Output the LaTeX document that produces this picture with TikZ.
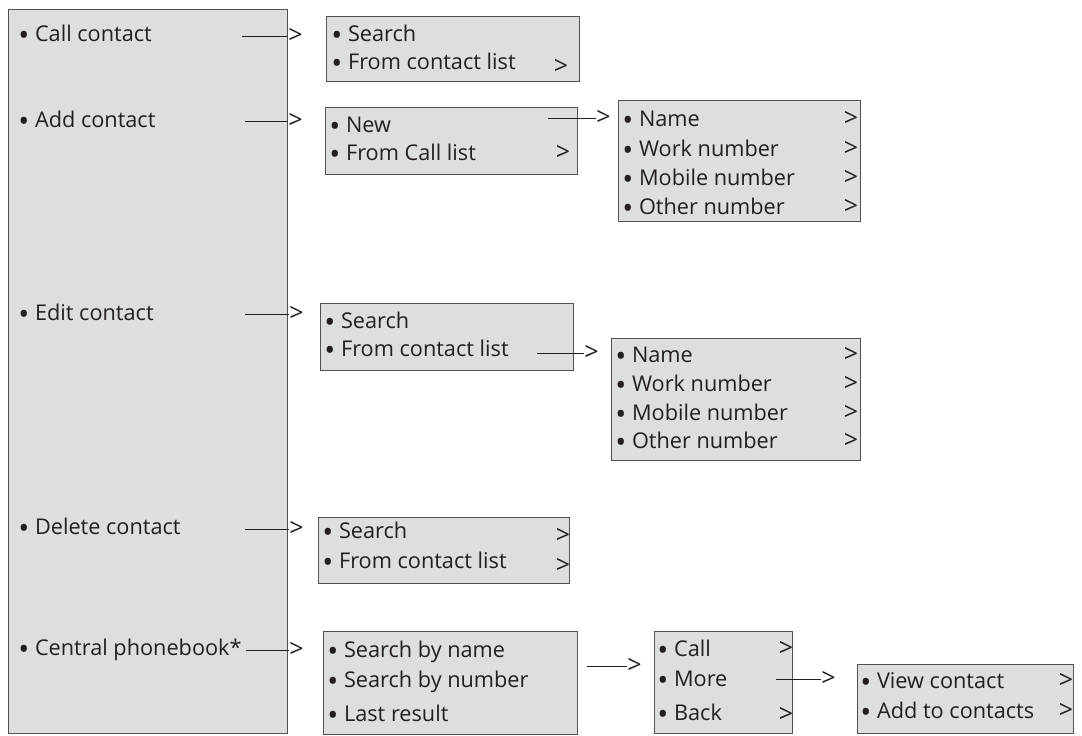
\documentclass[tikz,border=0pt]{standalone}
\usepackage{fontspec}
\setmainfont{Open Sans}
\usetikzlibrary{positioning}
\definecolor{boxfill}{RGB}{221,222,224}
\definecolor{boxline}{RGB}{80,80,82}
\definecolor{ink}{RGB}{35,31,32}
\newcommand{\bul}{\raisebox{-0.19em}{\scalebox{1.35}{•}}}

\begin{document}
\begin{tikzpicture}
            [x=1pt,y=-1pt,thick,
             main/.style = {draw=boxline,fill=boxfill,rectangle,anchor=north west,inner sep=0pt,line width=0.9pt},
             item/.style = {anchor=base west,inner sep=0pt,text height=16pt,text depth=4pt,text=ink,font=\fontsize{21.7}{24}\selectfont},
             more/.style = {anchor=base,inner sep=0pt,text=ink,font=\fontsize{25}{28}\selectfont},
             link/.style = {draw=ink,line width=0.9pt},
             tip/.style = {anchor=west,inner sep=0pt,text=ink,font=\fontsize{25}{28}\selectfont}]
            \useasboundingbox (0,0) rectangle (1082,736);

            % boxes
            \node[main,minimum width=279,minimum height=724] (MainMenu) at (8,9) {};
            \node[main,minimum width=253,minimum height=65] (CallMenu) at (326,16) {};
            \node[main,minimum width=252,minimum height=67] (AddMenu) at (325,107) {};
            \node[main,minimum width=242,minimum height=121] (AddFields) at (618,100) {};
            \node[main,minimum width=253,minimum height=67] (EditMenu) at (320,303) {};
            \node[main,minimum width=249,minimum height=122] (EditFields) at (611,338) {};
            \node[main,minimum width=251,minimum height=66] (DeleteMenu) at (318,517) {};
            \node[main,minimum width=254,minimum height=103] (PhonebookMenu) at (323,631) {};
            \node[main,minimum width=138,minimum height=102] (ResultMenu) at (654,631) {};
            \node[main,minimum width=216,minimum height=69] (MoreMenu) at (857,664) {};

            % main menu
            \node[item] (CallContact) at (18,41) {\bul{} Call contact};
            \node[item] (AddContact) at (18,127) {\bul{} Add contact};
            \node[item] (EditContact) at (18,320) {\bul{} Edit contact};
            \node[item] (DeleteContact) at (18,534) {\bul{} Delete contact};
            \node[item] (CentralPhonebook) at (18,655) {\bul{} Central phonebook*};

            % call contact
            \node[item] (CallSearch) at (331,41) {\bul{} Search};
            \node[item] (CallList) at (331,69) {\bul{} From contact list};
            \node[more] (CallListMore) at (561,74) {>};

            % add contact
            \node[item] (AddNew) at (329,132) {\bul{} New};
            \node[item] (AddCallList) at (329,160) {\bul{} From Call list};
            \node[more] (AddCallListMore) at (563,160) {>};
            \node[item] (AddName) at (622,126) {\bul{} Name};
            \node[item] (AddWork) at (622,156) {\bul{} Work number};
            \node[item] (AddMobile) at (622,185) {\bul{} Mobile number};
            \node[item] (AddOther) at (622,214) {\bul{} Other number};
            \foreach \y in {126,156,185,214}
                \node[more] at (851,\y) {>};

            % edit contact
            \node[item] (EditSearch) at (324,328) {\bul{} Search};
            \node[item] (EditList) at (324,356) {\bul{} From contact list};
            \node[item] (EditName) at (615,362) {\bul{} Name};
            \node[item] (EditWork) at (615,391) {\bul{} Work number};
            \node[item] (EditMobile) at (615,420) {\bul{} Mobile number};
            \node[item] (EditOther) at (615,448) {\bul{} Other number};
            \foreach \y in {362,391,420,448}
                \node[more] at (851,\y) {>};

            % delete contact
            \node[item] (DeleteSearch) at (322,538) {\bul{} Search};
            \node[item] (DeleteList) at (322,568) {\bul{} From contact list};
            \node[more] (DeleteSearchMore) at (563,543) {>};
            \node[more] (DeleteListMore) at (563,573) {>};

            % central phonebook
            \node[item] (ByName) at (327,657) {\bul{} Search by name};
            \node[item] (ByNumber) at (327,687) {\bul{} Search by number};
            \node[item] (LastResult) at (327,721) {\bul{} Last result};
            \node[item] (ResultCall) at (657,656) {\bul{} Call};
            \node[item] (ResultMore) at (657,686) {\bul{} More};
            \node[item] (ResultBack) at (657,720) {\bul{} Back};
            \node[more] (ResultCallMore) at (786,656) {>};
            \node[more] (ResultBackMore) at (786,722) {>};
            \node[item] (ViewContact) at (860,688) {\bul{} View contact};
            \node[item] (AddToContacts) at (860,718) {\bul{} Add to contacts};
            \node[more] (ViewContactMore) at (1066,688) {>};
            \node[more] (AddToContactsMore) at (1066,718) {>};

            % connectors
            \coordinate (c1a) at (242,36);  \coordinate (c1b) at (288,36);
            \coordinate (c2a) at (245,121); \coordinate (c2b) at (288,121);
            \coordinate (c3a) at (548,118); \coordinate (c3b) at (596,118);
            \coordinate (c4a) at (245,314); \coordinate (c4b) at (289,314);
            \coordinate (c5a) at (537,353); \coordinate (c5b) at (584,353);
            \coordinate (c6a) at (245,529); \coordinate (c6b) at (289,529);
            \coordinate (c7a) at (246,650); \coordinate (c7b) at (289,650);
            \coordinate (c8a) at (587,666); \coordinate (c8b) at (627,666);
            \coordinate (c9a) at (776,679); \coordinate (c9b) at (821,679);
            \foreach \i in {1,...,9}
                \draw[link] (c\i a) -- (c\i b) node[tip] {>};
        \end{tikzpicture}
\end{document}
